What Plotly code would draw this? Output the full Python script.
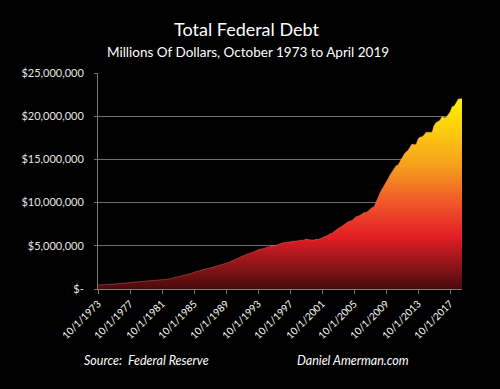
import plotly.graph_objects as go

# Quarterly total federal debt, millions of dollars, Oct 1973 - Apr 2019
debt_millions = [
    470000,
    475000, 475000, 481000, 492000,
    509000, 533000, 554000, 576000,
    600000, 620000, 635000, 653000,
    666000, 675000, 698000, 719000,
    738000, 750000, 772000, 789000,
    800000, 812000, 827000, 845000,
    870000, 877000, 908000, 930000,
    964000, 971000, 998000, 1028000,
    1061000, 1084000, 1142000, 1197000,
    1250000, 1324000, 1377000, 1410000,
    1463000, 1517000, 1573000, 1663000,
    1710000, 1775000, 1823000, 1945000,
    1986000, 2059000, 2125000, 2215000,
    2250000, 2313000, 2350000, 2431000,
    2487000, 2547000, 2602000, 2684000,
    2740000, 2799000, 2857000, 2953000,
    3052000, 3143000, 3233000, 3364000,
    3466000, 3538000, 3665000, 3802000,
    3881000, 3984000, 4065000, 4177000,
    4231000, 4352000, 4411000, 4536000,
    4576000, 4646000, 4692000, 4800000,
    4865000, 4951000, 4974000, 4989000,
    5118000, 5161000, 5224000, 5323000,
    5381000, 5376000, 5413000, 5502000,
    5542000, 5548000, 5526000, 5614000,
    5651000, 5639000, 5656000, 5776000,
    5773000, 5686000, 5674000, 5662000,
    5773000, 5727000, 5807000, 5943000,
    6006000, 6126000, 6228000, 6405000,
    6460000, 6670000, 6783000, 6998000,
    7131000, 7274000, 7379000, 7596000,
    7776000, 7836000, 7933000, 8170000,
    8371000, 8420000, 8507000, 8680000,
    8849000, 8867000, 9008000, 9229000,
    9437000, 9492000, 10025000, 10700000,
    11127000, 11545000, 11910000, 12311000,
    12773000, 13202000, 13562000, 14025000,
    14270000, 14343000, 14790000, 15223000,
    15582000, 15856000, 16066000, 16433000,
    16771000, 16738000, 16738000, 17352000,
    17601000, 17632000, 17824000, 18141000,
    18152000, 18152000, 18153000, 18922000,
    19264000, 19381000, 19573000, 19976000,
    19846000, 19845000, 20245000, 20493000,
    21090000, 21195000, 21516000, 21974000,
    22028000, 22023000,
]

# quarter start dates (Oct 1973 onward)
months = [1, 4, 7, 10]
dates = []
y, qi = 1973, 3
for _ in debt_millions:
    dates.append(f"{y}-{months[qi]:02d}-01")
    qi += 1
    if qi == 4:
        qi = 0
        y += 1

x_tick_years = [1973, 1977, 1981, 1985, 1989, 1993, 1997, 2001, 2005, 2009, 2013, 2017]
x_tick_vals = [f"{yr}-10-01" for yr in x_tick_years]
x_tick_text = [f"10/1/{yr}" for yr in x_tick_years]

y_tick_vals = [0, 5000000, 10000000, 15000000, 20000000, 25000000]
y_tick_text = ["$-", "$5,000,000", "$10,000,000", "$15,000,000", "$20,000,000", "$25,000,000"]

title = "Total Federal Debt"
subtitle = "Millions Of Dollars, October 1973 to April 2019"
source = "Source:  Federal Reserve"
credit = "Daniel Amerman.com"

FONT = "Lato"

fig = go.Figure()
fig.add_trace(go.Scatter(
    x=dates, y=debt_millions, mode="lines",
    line=dict(width=1, color="rgba(255,140,120,0.35)"),
    fill="tozeroy",
    fillgradient=dict(
        type="vertical",
        start=0, stop=22000000,
        colorscale=[
            [0.0, "#4a0a0e"],
            [0.12, "#8c1418"],
            [0.27, "#e21d25"],
            [0.45, "#f0552a"],
            [0.65, "#f6a01c"],
            [0.85, "#fdd00e"],
            [1.0, "#fff200"],
        ],
    ),
    hoverinfo="skip",
    showlegend=False,
))

fig.update_layout(
    width=500, height=389,
    paper_bgcolor="black", plot_bgcolor="black",
    margin=dict(l=98, r=38, t=73, b=100),
    font=dict(family=FONT, color="white"),
    xaxis=dict(
        type="date",
        range=["1973-10-01", "2019-04-01"],
        tickmode="array", tickvals=x_tick_vals, ticktext=x_tick_text,
        tickangle=-45, tickfont=dict(size=10, color="white", family=FONT),
        showgrid=False, zeroline=False,
        showline=True, linecolor="#7a7a7a", linewidth=1,
        ticks="outside", ticklen=4, tickcolor="#7a7a7a",
    ),
    yaxis=dict(
        range=[0, 25000000],
        tickmode="array", tickvals=y_tick_vals, ticktext=y_tick_text,
        tickfont=dict(size=11, color="#e6e6e6", family=FONT),
        showgrid=True, gridcolor="#6e6e6e", gridwidth=1,
        zeroline=False,
        showline=True, linecolor="#7a7a7a", linewidth=1,
        ticks="outside", ticklen=3, tickcolor="#6e6e6e",
        ticklabelstandoff=8,
    ),
    annotations=[
        dict(text=title, xref="paper", yref="paper", x=0.409, y=1.2037,
             xanchor="center", yanchor="middle", showarrow=False,
             font=dict(size=18, color="white", family=FONT)),
        dict(text=subtitle, xref="paper", yref="paper", x=0.411, y=1.097,
             xanchor="center", yanchor="middle", showarrow=False,
             font=dict(size=13.5, color="white", family=FONT)),
        dict(text=f"<i>{source}</i>", xref="paper", yref="paper", x=0.132, y=-0.329,
             xanchor="center", yanchor="middle", showarrow=False,
             font=dict(size=12.5, color="white", family=FONT)),
        dict(text=f"<i>{credit}</i>", xref="paper", yref="paper", x=0.70, y=-0.329,
             xanchor="center", yanchor="middle", showarrow=False,
             font=dict(size=12.5, color="white", family=FONT)),
    ],
)

# remove the default page margin and make the page background black
page_fix = (
    "document.body.style.margin='0';"
    "document.body.style.background='black';"
    "document.body.style.overflow='hidden';"
)

fig.write_html("out.html", post_script=page_fix,
               config={"displayModeBar": False})
